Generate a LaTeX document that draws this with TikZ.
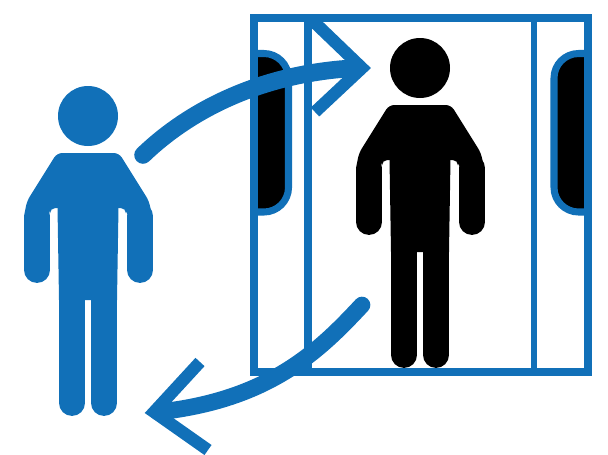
\documentclass[tikz,border=0pt]{standalone}
\definecolor{doorblue}{HTML}{1170B8}
\tikzset{
    limb/.style={line width=14.7pt, line cap=round},
    frameline/.style={doorblue, line width=4.2pt},
    windowline/.style={doorblue, fill=black, line width=4pt, rounded corners=14pt},
    arrowline/.style={doorblue, line width=#1, line cap=round, line join=miter},
    person/.pic={
        \fill (0,0) circle (30);
        \fill[rounded corners=3pt] (-31,37) -- (31,37) -- (61,85) -- (64,100) -- (38,100) -- (38,92) -- (-38,92) -- (-38,100) -- (-64,100) -- (-61,85) -- cycle;
        \fill (-31,60) -- (31,60) -- (29,184) -- (-29,184) -- cycle;
        \draw[limb] (-51,100) -- (-51,154);
        \draw[limb] (52,100) -- (52,154);
        \draw[limb] (-16,170) -- (-16,287);
        \draw[limb] (16,170) -- (16,287);
    }
}
\begin{document}
\begin{tikzpicture}[x=0.02cm,y=-0.02cm]
    \useasboundingbox (0,0) rectangle (608,454);

    % Windows of the doors
    \draw[windowline] (254,53.5) -- (288.5,53.5) -- (288.5,212) -- (254,212);
    \draw[windowline] (588,53.5) -- (554,53.5) -- (554,212) -- (588,212);

    % Door frame
    \draw[frameline] (254,18) rectangle (588,372);
    \draw[frameline] (308,18) -- (308,372);
    \draw[frameline, line width=3.4pt] (534,18) -- (534,372);

    % The two people
    \pic[black] at (420,68) {person};
    \pic[doorblue] at (88,116) {person};

    % Going in
    \draw[arrowline=10pt] (143,155) .. controls (195,105) and (270,72) .. (358,68);
    \draw[arrowline=7pt, line cap=butt] (312,20) -- (362,68) -- (315,112);

    % Coming out
    \draw[arrowline=9.5pt] (362,305) .. controls (320,350) and (270,400) .. (158,412);
    \draw[arrowline=7pt, line cap=butt] (200,362) -- (154,412) -- (208,450);
\end{tikzpicture}
\end{document}
